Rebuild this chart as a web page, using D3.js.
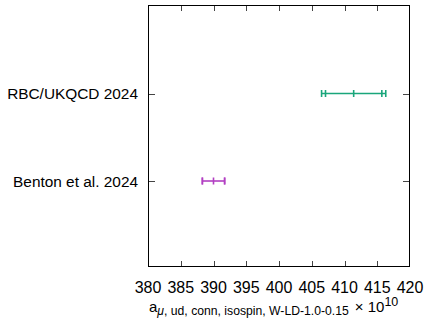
<!DOCTYPE html>
<html><head><meta charset="utf-8">
<script src="https://cdn.jsdelivr.net/npm/d3@7"></script>
<style>html,body{margin:0;padding:0;background:#fff;}svg{display:block;}</style>
</head><body>
<script>
const labels = ["RBC/UKQCD 2024", "Benton et al. 2024"];
const yIndex = [2, 1];
const centers = [411.4, 390.0];
const errInner = [4.3, 1.7];
const errOuter = [4.9, 1.7];
const colors = ["#1aa67b", "#b23fc2"];
const xTicks = [380, 385, 390, 395, 400, 405, 410, 415, 420];

(function () {
const W = 424, H = 320;
const pL = 148, pR = 410, pT = 5, pB = 267;
const svg = d3.select("body").append("svg").attr("width", W).attr("height", H);
const font = "'Liberation Sans', Arial, Helvetica, sans-serif";

const x = d3.scaleLinear().domain([380, 420]).range([pL, pR]);
const y = d3.scaleLinear().domain([0, 3]).range([268.5, 6]);

// ticks
const tickLen = 6;
const tg = svg.append("g").attr("stroke", "#444").attr("stroke-width", 1);
xTicks.slice(1, -1).forEach(t => {
  const xx = Math.round(x(t)) + 0.5;
  tg.append("line").attr("x1", xx).attr("x2", xx).attr("y1", pB).attr("y2", pB - tickLen);
  tg.append("line").attr("x1", xx).attr("x2", xx).attr("y1", pT).attr("y2", pT + tickLen);
});
yIndex.forEach(v => {
  const yy = Math.round(y(v)) + 0.5;
  tg.append("line").attr("x1", pL).attr("x2", pL + tickLen + 1).attr("y1", yy).attr("y2", yy);
  tg.append("line").attr("x1", pR).attr("x2", pR - tickLen - 1).attr("y1", yy).attr("y2", yy);
});

// frame
svg.append("rect").attr("x", pL + 0.5).attr("y", pT + 0.5)
  .attr("width", pR - pL - 1).attr("height", pB - pT - 1)
  .attr("fill", "none").attr("stroke", "#000").attr("stroke-width", 1);

// x tick labels
svg.append("g").selectAll("text").data(xTicks).join("text")
  .attr("x", d => x(d)).attr("y", 293)
  .attr("text-anchor", "middle").attr("font-family", font).attr("font-size", 16)
  .attr("fill", "#000").text(d => d);

// y labels
svg.append("g").selectAll("text").data(labels).join("text")
  .attr("x", 138).attr("y", (d, i) => y(yIndex[i]) + 5.5)
  .attr("text-anchor", "end").attr("font-family", font).attr("font-size", 15.4)
  .attr("fill", "#000").text(d => d);

// error bars
const cap = 3.5;
labels.forEach((l, i) => {
  const g = svg.append("g").attr("stroke", colors[i]).attr("stroke-width", 1.6).attr("fill", "none");
  const yy = y(yIndex[i]);
  const c = centers[i];
  g.append("line").attr("x1", x(c - errOuter[i])).attr("x2", x(c + errOuter[i])).attr("y1", yy).attr("y2", yy);
  [c - errOuter[i], c + errOuter[i], c - errInner[i], c + errInner[i], c].forEach(v => {
    g.append("line").attr("x1", x(v)).attr("x2", x(v)).attr("y1", yy - cap).attr("y2", yy + cap);
  });
});

// x axis title
const t = svg.append("text").attr("x", 149).attr("y", 312)
  .attr("font-family", font).attr("font-size", 15).attr("fill", "#000");
t.append("tspan").text("a");
t.append("tspan").attr("font-size", 12.2).attr("dy", 3).attr("font-style", "italic").text("\u03bc");
t.append("tspan").attr("font-size", 12.2).text(", ud, conn, isospin, W-LD-1.0-0.15");
t.append("tspan").attr("dy", -3).attr("dx", 6).attr("font-size", 15).text("\u00d7 10");
t.append("tspan").attr("dy", -6).attr("font-size", 12.5).text("10");
})();
</script>
</body></html>
